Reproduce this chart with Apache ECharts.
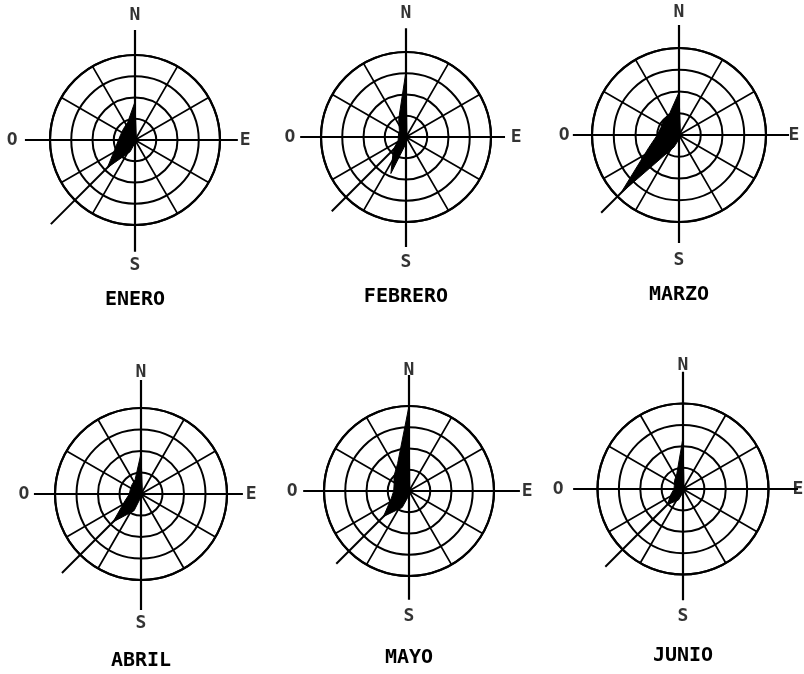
<!DOCTYPE html>
<html>
<head>
<meta charset="utf-8">
<script src="https://cdn.jsdelivr.net/npm/echarts@6/dist/echarts.min.js"></script>
<style>
  html, body { margin: 0; padding: 0; background: #fff; }
  #chart { width: 804px; height: 674px; }
</style>
</head>
<body>
<div id="chart"></div>
<script>
// Wind roses, one per month: frequency (%) of wind from each of 16 compass bearings.
const months = ['ENERO', 'FEBRERO', 'MARZO', 'ABRIL', 'MAYO', 'JUNIO'];
const bearings = [0, 22.5, 45, 67.5, 90, 112.5, 135, 157.5, 180, 202.5, 225, 247.5, 270, 292.5, 315, 337.5];

//              N     NNE  NE   ENE  E    ESE  SE   SSE  S    SSW  SW    WSW  W    WNW  NW   NNW
const enero   = [9.0,  0.8, 0.4, 0.3, 0.3, 0.3, 0.3, 0.4, 0.8, 3.0, 9.2,  5.0, 3.9, 3.6, 3.8, 4.5];
const febrero = [15.5, 0.6, 0.3, 0.3, 0.3, 0.3, 0.3, 0.5, 1.5, 9.3, 4.2,  2.0, 1.8, 1.9, 2.2, 4.5];
const marzo   = [9.8,  0.8, 0.4, 0.3, 0.3, 0.3, 0.3, 0.4, 1.0, 3.0, 19.0, 7.5, 5.0, 4.5, 5.0, 5.5];
const abril   = [9.4,  0.8, 0.4, 0.3, 0.3, 0.3, 0.3, 0.4, 0.8, 4.2, 9.2,  4.0, 2.7, 2.7, 3.0, 3.6];
const mayo    = [20.0, 0.5, 0.3, 0.3, 0.3, 0.3, 0.3, 0.4, 1.0, 4.2, 8.5,  4.5, 3.6, 3.8, 5.0, 7.0];
const junio   = [12.0, 0.6, 0.3, 0.3, 0.3, 0.3, 0.3, 0.4, 0.8, 2.8, 5.2,  3.0, 2.1, 2.2, 2.8, 3.8];
const roses = [enero, febrero, marzo, abril, mayo, junio];

// Rings every 5 %, outer ring at 20 %; spokes every 30 degrees.
const ringMax = 20;
const ringStep = 5;
const spokeStep = 30;

// Cardinal labels (O = Oeste).
const compassLetters = ['N', 'E', 'S', 'O'];
const compassBearings = [0, 90, 180, 270];

// ---- layout / styling ----
// axes: N, E, S, O ends of the cross (ring units); letters: N, E, S, O label distance
const panels = [
  { center: [135, 140], radius: 85,   titleY: 290, axes: [25.9, 24.2, 26.3, 25.9], sw: 28.0, letters: [29.4, 25.9, 29.4, 28.9] },
  { center: [406, 137], radius: 85,   titleY: 287, axes: [25.6, 23.3, 25.9, 24.9], sw: 24.7, letters: [29.2, 25.9, 29.6, 27.3] },
  { center: [679, 135], radius: 87,   titleY: 285, axes: [25.3, 25.3, 24.8, 24.4], sw: 25.3, letters: [28.3, 26.4, 28.7, 26.4] },
  { center: [141, 494], radius: 86,   titleY: 651, axes: [26.5, 23.7, 27.0, 24.9], sw: 26.0, letters: [28.4, 25.6, 30.0, 27.2] },
  { center: [409, 491], radius: 85,   titleY: 648, axes: [27.3, 26.1, 25.6, 24.9], sw: 24.2, letters: [28.5, 27.8, 29.6, 27.5] },
  { center: [683, 489], radius: 85.5, titleY: 646, axes: [27.4, 26.9, 26.0, 25.7], sw: 25.7, letters: [29.0, 26.9, 29.9, 29.2] }
];
const ink = '#000';
const overlayMax = 32;   // overlay scale, same units as the rings

const polar = [], angleAxis = [], radiusAxis = [], series = [], title = [];
const hidden = { show: false };

panels.forEach((p, i) => {
  const g = 2 * i;       // grid polar
  const o = 2 * i + 1;   // overlay polar sharing the centre and the unit length
  polar.push({ center: p.center, radius: p.radius });
  polar.push({ center: p.center, radius: p.radius * overlayMax / ringMax });

  angleAxis.push({
    polarIndex: g, type: 'value', min: 0, max: 360, interval: spokeStep,
    startAngle: 90, clockwise: true,
    axisLine: { show: true, lineStyle: { color: ink, width: 2.2 } },
    axisTick: hidden, axisLabel: hidden,
    splitLine: { show: true, lineStyle: { color: ink, width: 1.7 } }
  });
  radiusAxis.push({
    polarIndex: g, type: 'value', min: 0, max: ringMax, interval: ringStep,
    axisLine: hidden, axisTick: hidden, axisLabel: hidden,
    splitLine: { show: true, lineStyle: { color: ink, width: 2 } }
  });
  angleAxis.push({
    polarIndex: o, type: 'value', min: 0, max: 360, startAngle: 90, clockwise: true,
    axisLine: hidden, axisTick: hidden, axisLabel: hidden, splitLine: hidden
  });
  radiusAxis.push({
    polarIndex: o, type: 'value', min: 0, max: overlayMax,
    axisLine: hidden, axisTick: hidden, axisLabel: hidden, splitLine: hidden
  });

  // N-S and E-W axes running past the outer ring
  series.push({
    type: 'line', coordinateSystem: 'polar', polarIndex: o, silent: true,
    symbol: 'none', lineStyle: { color: ink, width: 2.2 },
    data: [[p.axes[0], compassBearings[0]], [p.axes[2], compassBearings[2]]]
  });
  series.push({
    type: 'line', coordinateSystem: 'polar', polarIndex: o, silent: true,
    symbol: 'none', lineStyle: { color: ink, width: 2.2 },
    data: [[p.axes[1], compassBearings[1]], [p.axes[3], compassBearings[3]]]
  });
  // SW guide line from the centre
  series.push({
    type: 'line', coordinateSystem: 'polar', polarIndex: o, silent: true,
    symbol: 'none', lineStyle: { color: ink, width: 2 },
    data: [[0, 0], [p.sw, 225]]
  });

  // the rose itself: closed polygon filled solid
  const vals = roses[i];
  const pts = bearings.map((b, k) => [vals[k], b]);
  pts.push([vals[0], 360]);
  series.push({
    type: 'line', coordinateSystem: 'polar', polarIndex: g, silent: true,
    symbol: 'none', smooth: false, z: 5,
    lineStyle: { color: ink, width: 1 },
    areaStyle: { color: ink, opacity: 1 },
    data: pts
  });

  // cardinal letters
  series.push({
    type: 'scatter', coordinateSystem: 'polar', polarIndex: o, silent: true,
    symbolSize: 1, itemStyle: { color: 'transparent' },
    label: {
      show: true, position: 'inside', color: ink,
      fontFamily: 'DejaVu Sans Mono', fontSize: 18, fontWeight: 'bold',
      formatter: (d) => compassLetters[d.dataIndex]
    },
    data: compassBearings.map((b, k) => [p.letters[k], b])
  });

  title.push({
    text: months[i], left: p.center[0], top: p.titleY, textAlign: 'center', padding: 0,
    textStyle: { color: ink, fontFamily: 'DejaVu Sans Mono', fontSize: 20, fontWeight: 'bold' }
  });
});

const chart = echarts.init(document.getElementById('chart'), null, { renderer: 'canvas' });
chart.setOption({
  backgroundColor: '#fff',
  animation: false,
  title, polar, angleAxis, radiusAxis, series
});
</script>
</body>
</html>
